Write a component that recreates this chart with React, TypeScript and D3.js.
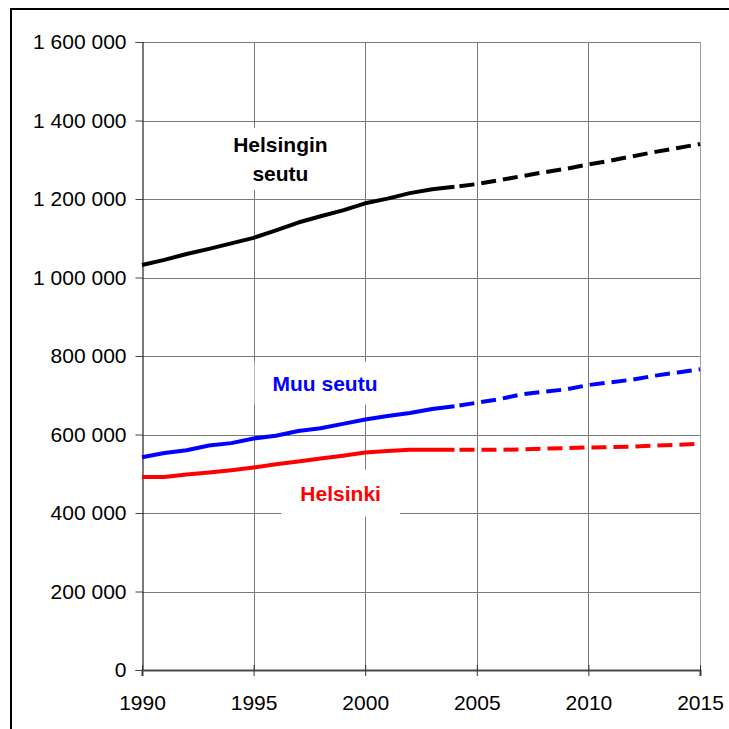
import * as d3 from "d3";
import { useEffect, useRef } from "react";

// vuodet ja väkiluvut (toteutunut 1990-2004, ennuste 2004-2015)
const years = [
  1990, 1991, 1992, 1993, 1994, 1995, 1996, 1997, 1998, 1999, 2000, 2001, 2002,
  2003, 2004, 2005, 2006, 2007, 2008, 2009, 2010, 2011, 2012, 2013, 2014, 2015,
];

const helsinginSeutu = [
  1032000, 1045000, 1060000, 1073000, 1087000, 1101000, 1120000, 1140000,
  1156000, 1171000, 1189000, 1201000, 1215000, 1225000, 1231000, 1238000,
  1248000, 1258000, 1268000, 1277000, 1288000, 1298000, 1309000, 1320000,
  1330000, 1340000,
];

const muuSeutu = [
  542000, 553000, 560000, 572000, 578000, 590000, 597000, 609000, 616000,
  627000, 638000, 647000, 655000, 665000, 672000, 681000, 690000, 702000,
  709000, 715000, 726000, 733000, 740000, 750000, 758000, 766000,
];

const helsinki = [
  492000, 492000, 498000, 503000, 509000, 516000, 524000, 531000, 539000,
  546000, 554000, 558000, 561000, 561000, 561000, 561000, 561000, 562000,
  564000, 565000, 567000, 568000, 569000, 572000, 574000, 576000,
];

const lastActualYear = 2004;

const yTicks = [0, 200000, 400000, 600000, 800000, 1000000, 1200000, 1400000, 1600000];
const xTicks = [1990, 1995, 2000, 2005, 2010, 2015];

const seriesNames = ["Helsingin seutu", "Muu seutu", "Helsinki"];
const seriesColors = ["#000000", "#0000ff", "#ff0000"];
const seriesValues = [helsinginSeutu, muuSeutu, helsinki];

// nimilappujen paikat (vuosi, arvo) ja tekstirivit
const labelLines = [["Helsingin", "seutu"], ["Muu seutu"], ["Helsinki"]];
const labelYears = [1996.2, 1998.2, 1998.9];
const labelValues = [1320000, 711500, 431300];

const W = 729;
const H = 729;
const margin = { top: 42, right: 29, bottom: 59, left: 142 };
const FONT = "'Liberation Sans', Arial, sans-serif";

const App = () => {
  const svgRef = useRef<SVGSVGElement>(null);

  useEffect(() => {
    const svg = d3.select(svgRef.current);
    svg.selectAll("*").remove();

    const x = d3.scaleLinear().domain([1990, 2015]).range([margin.left, W - margin.right]);
    const y = d3.scaleLinear().domain([0, 1600000]).range([H - margin.bottom, margin.top]);

    // ulkokehys
    svg.append("path")
      .attr("d", `M11,${H} L11,9 L${W},9`)
      .attr("fill", "none")
      .attr("stroke", "#000")
      .attr("stroke-width", 2);

    // ruudukko
    const grid = svg.append("g").attr("stroke", "#7a7a7a").attr("stroke-width", 1);
    yTicks.filter((t) => t > 0).forEach((t) => {
      grid.append("line")
        .attr("x1", margin.left).attr("x2", W - margin.right)
        .attr("y1", Math.round(y(t)) + 0.5).attr("y2", Math.round(y(t)) + 0.5);
    });
    xTicks.filter((t) => t > 1990).forEach((t) => {
      grid.append("line")
        .attr("x1", Math.round(x(t)) + 0.5).attr("x2", Math.round(x(t)) + 0.5)
        .attr("y1", margin.top).attr("y2", H - margin.bottom)
        .attr("stroke", t === 2015 ? "#a0a0a0" : null);
    });

    // akselit
    const fmt = (v: number) => d3.format(",")(v).replace(/,/g, " ");
    const yAxis = svg.append("g")
      .attr("transform", `translate(${margin.left + 0.5},0)`)
      .call(d3.axisLeft(y).tickValues(yTicks).tickFormat((d) => fmt(d as number)).tickSize(7).tickPadding(9));
    yAxis.select(".domain").attr("stroke", "#222").attr("stroke-width", 1.2);
    yAxis.selectAll(".tick line").attr("stroke", "#444");
    yAxis.selectAll("text")
      .attr("font-family", FONT).attr("font-size", 21).attr("fill", "#000");

    const xAxis = svg.append("g")
      .attr("transform", `translate(0,${H - margin.bottom})`)
      .call(d3.axisBottom(x).tickValues(xTicks).tickFormat((d) => String(d)).tickSize(6).tickPadding(19));
    xAxis.select(".domain").attr("stroke", "#4a4a4a").attr("stroke-width", 2);
    xAxis.selectAll(".tick line").attr("stroke", "#333").attr("y1", -5);
    xAxis.selectAll("text")
      .attr("font-family", FONT).attr("font-size", 21).attr("fill", "#000");

    // nimilaput: valkoinen tausta ensin
    const boxLayer = svg.append("g");
    const textLayer = svg.append("g");

    const pads = [[22, 5], [18, 10], [19, 12]];
    labelLines.forEach((lines, i) => {
      const t = textLayer.append("text")
        .attr("x", x(labelYears[i]))
        .attr("y", y(labelValues[i]))
        .attr("text-anchor", "middle")
        .attr("font-family", FONT)
        .attr("font-size", 21)
        .attr("font-weight", "bold")
        .attr("fill", seriesColors[i]);
      lines.forEach((ln, k) => {
        t.append("tspan").attr("x", x(labelYears[i])).attr("dy", k === 0 ? 0 : 29).text(ln);
      });
      const bb = (t.node() as SVGTextElement).getBBox();
      boxLayer.append("rect")
        .attr("x", bb.x - pads[i][0])
        .attr("y", bb.y - pads[i][1])
        .attr("width", bb.width + 2 * pads[i][0])
        .attr("height", bb.height + 2 * pads[i][1])
        .attr("fill", "#fff");
    });

    // viivat
    const line = d3.line<number>()
      .defined((d) => !isNaN(d))
      .x((_, i) => x(years[i]))
      .y((d) => y(d));
    const splitIdx = years.indexOf(lastActualYear);
    const lineLayer = svg.append("g");
    seriesValues.forEach((vals, s) => {
      const actual = vals.map((v, i) => (i <= splitIdx ? v : NaN));
      const forecast = vals.map((v, i) => (i >= splitIdx ? v : NaN));
      lineLayer.append("path")
        .attr("d", line(actual))
        .attr("fill", "none")
        .attr("stroke", seriesColors[s])
        .attr("stroke-width", 4)
        .attr("stroke-linejoin", "round")
        .attr("aria-label", seriesNames[s]);
      lineLayer.append("path")
        .attr("d", line(forecast))
        .attr("fill", "none")
        .attr("stroke", seriesColors[s])
        .attr("stroke-width", 4)
        .attr("stroke-dasharray", "15,7")
        .attr("stroke-dashoffset", 17);
    });

    textLayer.raise();
  }, []);

  return (
    <div style={{ position: "absolute", left: 0, top: 0, width: W, height: H, background: "#fff" }}>
      <svg ref={svgRef} width={W} height={H} style={{ display: "block" }} />
    </div>
  );
};

export default App;
